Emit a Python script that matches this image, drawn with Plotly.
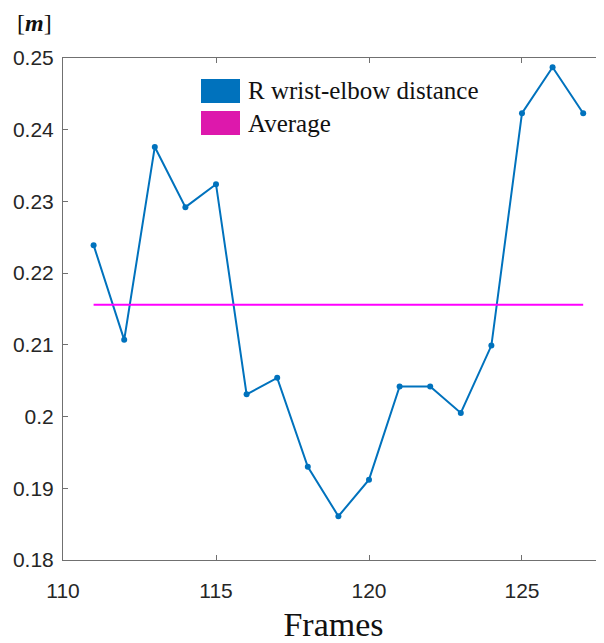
import plotly.graph_objects as go

frames = [111, 112, 113, 114, 115, 116, 117, 118, 119, 120, 121, 122, 123, 124, 125, 126, 127]
distance = [0.2239, 0.2107, 0.2376, 0.2292, 0.2324, 0.2031, 0.2054, 0.1930, 0.1861,
            0.1912, 0.2042, 0.2042, 0.2005, 0.2099, 0.2423, 0.2487, 0.2423]
avg_x = [111, 127]
avg_value = 0.2156
legend_labels = ["R wrist-elbow distance", "Average"]
x_ticks = [110, 115, 120, 125]
y_ticks = [0.18, 0.19, 0.20, 0.21, 0.22, 0.23, 0.24, 0.25]
y_tick_text = ["0.18", "0.19", "0.2", "0.21", "0.22", "0.23", "0.24", "0.25"]

BLUE = "#0072BD"
MAG = "#FF00FF"
MAG_LEG = "#DD18AC"
SERIF = "Liberation Serif, Times New Roman, serif"
SANS = "Liberation Sans, Arial, sans-serif"

fig = go.Figure()
fig.add_trace(go.Scatter(x=frames, y=distance, mode="lines+markers",
                         line=dict(color=BLUE, width=2), marker=dict(color=BLUE, size=6),
                         showlegend=False))
fig.add_trace(go.Scatter(x=avg_x, y=[avg_value] * len(avg_x), mode="lines",
                         line=dict(color=MAG, width=2), showlegend=False))

axis_common = dict(showline=True, linecolor="#707070", linewidth=1, mirror="ticks",
                   ticks="inside", ticklen=5, tickcolor="#707070", showgrid=False,
                   zeroline=False, automargin=False,
                   tickfont=dict(family=SANS, size=21, color="#262626"))

fig.update_xaxes(range=[110, 127.68], tickvals=x_ticks, ticklabelstandoff=12,
                 title=dict(text="Frames", font=dict(family=SERIF, size=34, color="#111"), standoff=10),
                 **axis_common)
fig.update_yaxes(range=[0.18, 0.25], tickvals=y_ticks, ticktext=y_tick_text, ticklabelstandoff=4,
                 **axis_common)

# legend drawn manually with colour boxes (positions relative to plot area)
for i, (lab, col) in enumerate(zip(legend_labels, [BLUE, MAG_LEG])):
    y0 = 79 + i * 32
    fig.add_shape(type="rect", xref="paper", yref="paper",
                  x0=(201 - 63) / 541, x1=(240 - 63) / 541,
                  y0=1 - (y0 + 24 - 58) / 502, y1=1 - (y0 - 58) / 502,
                  fillcolor=col, line=dict(color=col, width=0))
    fig.add_annotation(xref="paper", yref="paper", x=(246 - 63) / 541, y=1 - (y0 + 12 - 58) / 502,
                       text=lab, showarrow=False, xanchor="left", yanchor="middle",
                       font=dict(family=SERIF, size=25, color="#111"))

fig.add_annotation(xref="paper", yref="paper", x=(15 - 63) / 541, y=1 + (58 - 23) / 502,
                   text="[<b><i>m</i></b>]", showarrow=False, xanchor="left", yanchor="middle",
                   font=dict(family=SERIF, size=24, color="#111"))

# page body has an 8px margin, so compensate
fig.update_layout(width=596, height=635, margin=dict(l=55, r=0, t=50, b=83),
                  plot_bgcolor="white", paper_bgcolor="white")

fig.write_html("out.html")
